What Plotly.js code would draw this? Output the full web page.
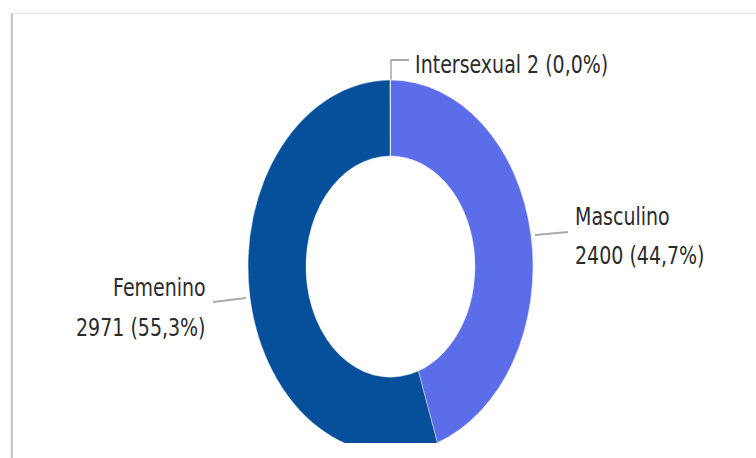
<!DOCTYPE html>
<html>
<head>
<meta charset="utf-8">
<script src="https://cdn.plot.ly/plotly-3.0.1.min.js"></script>
<style>
  html, body { margin: 0; padding: 0; background: #ffffff; width: 756px; height: 458px; overflow: hidden; }
  #panel { position: absolute; left: 11px; top: 13px; width: 760px; height: 460px;
           border-left: 2px solid #c6c6c6; border-top: 1px solid #e6e6e6;
           box-shadow: -1px 0 2px rgba(0,0,0,0.08); }
  #clip { position: absolute; left: 0; top: 0; width: 756px; height: 443px; overflow: hidden; }
  #plot { position: absolute; left: 0; top: 0; width: 756px; height: 420px;
          transform: scaleY(1.3086); transform-origin: 0 0; }
</style>
</head>
<body>
<div id="panel"></div>
<div id="clip"><div id="plot"></div></div>
<script>
// ---- data ----
const labels = ['Masculino', 'Femenino', 'Intersexual'];
const values = [2400, 2971, 2];
const colors = ['#5c6de9', '#06509b', '#9aa7c7'];

// ---- helpers ----
const total = values.reduce((a, b) => a + b, 0);
const pct = v => (100 * v / total).toFixed(1).replace('.', ',') + '%';

const W = 756, H = 420;          // unstretched plot size
const px = x => x / W;           // pixel -> paper x
const py = y => 1 - y / H;       // pixel (from top) -> paper y

// pie geometry (pixels, unstretched)
const cx = 390.5, cy = 203.7, R = 142.5;

const trace = {
  type: 'pie',
  labels: labels,
  values: values,
  sort: false,
  direction: 'clockwise',
  rotation: 0,
  hole: 0.593,
  textinfo: 'none',
  hoverinfo: 'none',
  marker: { colors: colors, line: { color: 'rgba(255,255,255,0.6)', width: 0.6 } },
  domain: { x: [px(cx - R), px(cx + R)], y: [py(cy + R), py(cy - R)] },
  showlegend: false
};

const font = { family: 'DejaVu Sans, Verdana, sans-serif', size: 19, color: '#2b2b2b' };

function ann(text, x, y, xanchor) {
  return { text: text, x: px(x), y: py(y), xref: 'paper', yref: 'paper',
           xanchor: xanchor, yanchor: 'middle', showarrow: false, font: font };
}

const iM = 0, iF = 1, iI = 2;
const annotations = [
  ann(labels[iI] + ' ' + values[iI] + ' (' + pct(values[iI]) + ')', 413, 48.5, 'left'),
  ann(labels[iM], 573, 165.5, 'left'),
  ann(values[iM] + ' (' + pct(values[iM]) + ')', 573, 195.3, 'left'),
  ann(labels[iF], 208, 218.9, 'right'),
  ann(values[iF] + ' (' + pct(values[iF]) + ')', 208, 249.5, 'right')
];

const lineStyle = { color: '#a9a9a9', width: 1.5 };
function seg(pts) {
  return { type: 'path', xref: 'paper', yref: 'paper',
           path: pts.map((p, i) => (i ? 'L ' : 'M ') + px(p[0]) + ',' + py(p[1])).join(' '),
           line: lineStyle };
}
const shapes = [
  seg([[391, 61], [391, 45.9], [409, 45.9]]),
  seg([[535, 179.6], [568, 177.3]]),
  seg([[213, 230.8], [246, 227.7]])
];

const layout = {
  width: W, height: H,
  margin: { l: 0, r: 0, t: 0, b: 0 },
  paper_bgcolor: 'rgba(0,0,0,0)',
  plot_bgcolor: 'rgba(0,0,0,0)',
  annotations: annotations,
  shapes: shapes,
  showlegend: false
};

Plotly.newPlot('plot', [trace], layout, { staticPlot: true, displayModeBar: false });
</script>
</body>
</html>
